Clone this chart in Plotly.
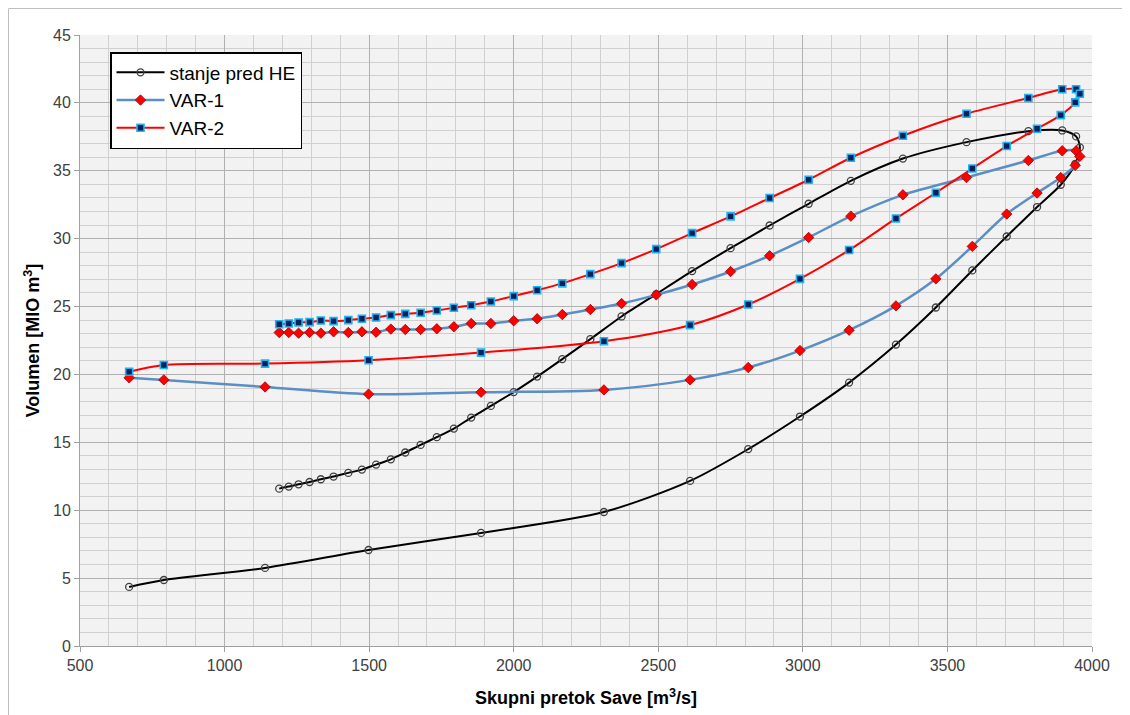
import plotly.graph_objects as go

# Shared x values (m3/s): upper branch ascending, then lower branch descending
x_flow = [1189, 1222, 1256, 1294, 1333, 1377, 1428, 1475, 1524, 1575, 1625, 1678,
          1734, 1793, 1853, 1921, 2000, 2081, 2168, 2265, 2373, 2493, 2617, 2750,
          2885, 3020, 3166, 3346, 3566, 3780, 3897, 3945, 3958,
          3942, 3892, 3810, 3705, 3586, 3460, 3322, 3160, 2990, 2811, 2610, 2312,
          1887, 1498, 1140, 790, 670]

y_stanje = [11.59, 11.74, 11.91, 12.08, 12.28, 12.48, 12.75, 12.99, 13.36, 13.75, 14.25, 14.81,
            15.38, 16.01, 16.82, 17.68, 18.7, 19.84, 21.13, 22.6, 24.27, 25.92, 27.61, 29.3,
            30.97, 32.57, 34.26, 35.9, 37.11, 37.92, 37.97, 37.53, 36.72,
            35.5, 33.97, 32.33, 30.16, 27.66, 24.93, 22.2, 19.4, 16.9, 14.5, 12.16, 9.87,
            8.33, 7.07, 5.75, 4.86, 4.35]

y_var1 = [23.09, 23.09, 23.04, 23.09, 23.04, 23.14, 23.09, 23.14, 23.11, 23.34, 23.31, 23.31,
          23.36, 23.51, 23.75, 23.75, 23.95, 24.1, 24.41, 24.78, 25.22, 25.86, 26.62, 27.58,
          28.74, 30.09, 31.66, 33.23, 34.5, 35.76, 36.47, 36.47, 36.06,
          35.4, 34.5, 33.36, 31.81, 29.43, 27.04, 25.05, 23.26, 21.76, 20.51, 19.6, 18.86,
          18.69, 18.55, 19.08, 19.6, 19.75]

y_var2 = [23.7, 23.75, 23.83, 23.85, 23.97, 23.93, 24.0, 24.1, 24.19, 24.37, 24.46, 24.54,
          24.71, 24.91, 25.1, 25.37, 25.77, 26.2, 26.71, 27.39, 28.2, 29.23, 30.41, 31.64,
          32.99, 34.34, 35.96, 37.58, 39.2, 40.36, 41.0, 41.0, 40.67,
          40.04, 39.1, 38.1, 36.82, 35.17, 33.38, 31.49, 29.16, 27.04, 25.15, 23.63, 22.45,
          21.61, 21.05, 20.8, 20.7, 20.2]

series_names = ["stanje pred HE", "VAR-1", "VAR-2"]
x_title = "Skupni pretok Save [m<sup>3</sup>/s]"
y_title = "Volumen [MIO m<sup>3</sup>]"

FONT = "Liberation Sans"

ML, MR, MT, MB = 72, 46, 27, 77
PW, PH = 1130 - ML - MR, 715 - MT - MB

fig = go.Figure()
fig.add_trace(go.Scatter(
    x=x_flow, y=y_stanje, name=series_names[0], mode="lines+markers",
    line=dict(color="#000000", width=2, shape="spline", smoothing=0.8),
    marker=dict(symbol="circle-open", size=7, color="#404040", line=dict(width=1.3, color="#404040")),
))
fig.add_trace(go.Scatter(
    x=x_flow, y=y_var1, name=series_names[1], mode="lines+markers",
    line=dict(color="#5B8EC4", width=2.5, shape="spline", smoothing=0.8),
    marker=dict(symbol="diamond", size=8, color="#FF0000", line=dict(width=0.8, color="#A00000")),
))
fig.add_trace(go.Scatter(
    x=x_flow, y=y_var2, name=series_names[2], mode="lines+markers",
    line=dict(color="#FF0000", width=2, shape="spline", smoothing=0.8),
    marker=dict(symbol="square", size=7, color="#002060", line=dict(width=1.6, color="#1FB4F0")),
))

fig.update_layout(
    width=1130, height=715,
    margin=dict(l=ML, r=MR, t=MT, b=MB),
    paper_bgcolor="#FFFFFF",
    plot_bgcolor="#F2F2F2",
    font=dict(family=FONT, size=15, color="#404040"),
    showlegend=True,
    legend=dict(
        x=(110 - 80) / PW, y=1 - (52 - 35) / PH, xanchor="left", yanchor="top",
        bgcolor="#FFFFFF", bordercolor="#000000", borderwidth=1.5,
        font=dict(family=FONT, size=19, color="#000000"),
        itemwidth=48,
    ),
    xaxis=dict(
        range=[500, 4000], tick0=500, dtick=500,
        showgrid=True, gridcolor="#B0B0B0", gridwidth=1,
        minor=dict(dtick=100, showgrid=True, gridcolor="#D0D0D0", gridwidth=1),
        showline=True, linecolor="#A0A0A0", linewidth=1,
        ticks="outside", ticklen=5, tickcolor="#A0A0A0",
        zeroline=False,
        tickfont=dict(family=FONT, size=16, color="#404040"),
        title=dict(text=x_title, font=dict(family=FONT, size=18, color="#000000", weight="bold"), standoff=18),
    ),
    yaxis=dict(
        range=[0, 45], tick0=0, dtick=5,
        showgrid=True, gridcolor="#B0B0B0", gridwidth=1,
        minor=dict(dtick=1, showgrid=True, gridcolor="#D0D0D0", gridwidth=1),
        showline=True, linecolor="#A0A0A0", linewidth=1,
        ticks="outside", ticklen=5, tickcolor="#A0A0A0",
        zeroline=False,
        tickfont=dict(family=FONT, size=16, color="#404040"),
        title=dict(text=y_title, font=dict(family=FONT, size=18, color="#000000", weight="bold"), standoff=8),
    ),
)

# outer chart-area border
fig.add_shape(type="rect", xref="paper", yref="paper",
              x0=(-ML + 0.5) / PW, x1=(PW + MR - 0.5) / PW,
              y0=(-MB + 0.5) / PH, y1=(PH + MT - 0.5) / PH,
              line=dict(color="#BFBFBF", width=1), fillcolor="rgba(0,0,0,0)", layer="below")

fig.write_html("out.html")
